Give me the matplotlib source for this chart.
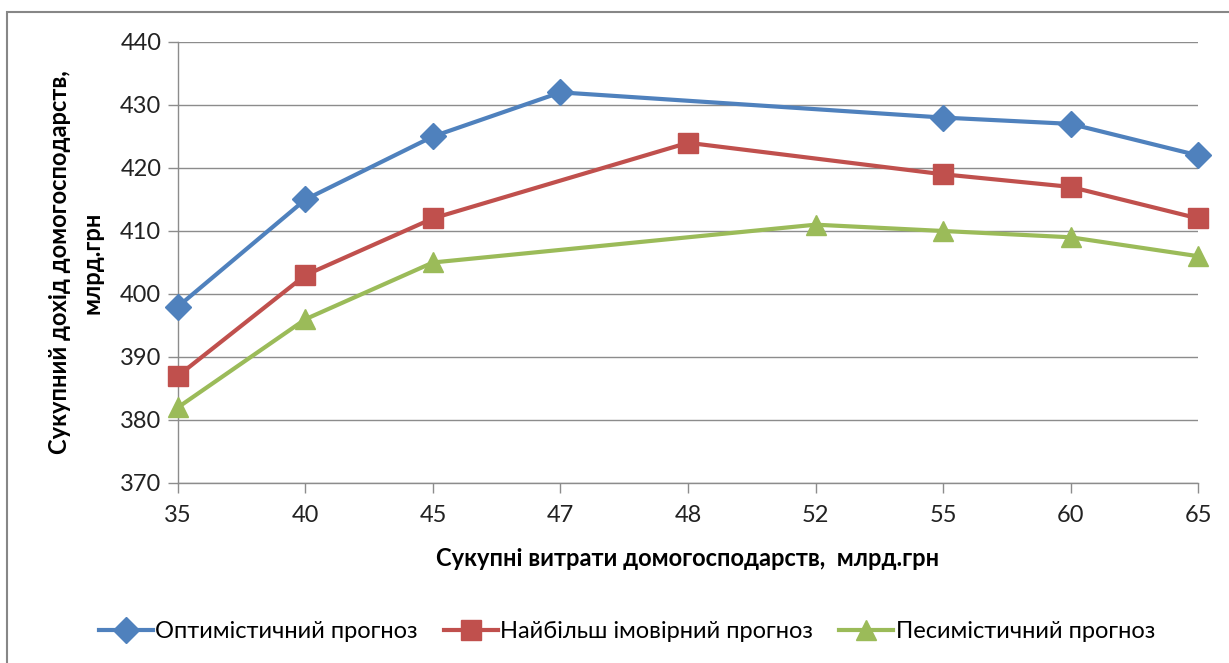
import matplotlib.pyplot as plt
import numpy as np
from matplotlib.patches import Rectangle

plt.rcParams["font.family"] = ["Lato", "DejaVu Sans"]

categories = ["35", "40", "45", "47", "48", "52", "55", "60", "65"]

# None = no point at that category; lines bridge the gaps
optimistic = [398, 415, 425, 432, None, None, 428, 427, 422]
most_likely = [387, 403, 412, None, 424, None, 419, 417, 412]
pessimistic = [382, 396, 405, None, None, 411, 410, 409, 406]

series = [
    ("Оптимістичний прогноз", optimistic, "#4F81BD", "D", 13),
    ("Найбільш імовірний прогноз", most_likely, "#C0504D", "s", 14),
    ("Песимістичний прогноз", pessimistic, "#9BBB59", "^", 15),
]

fig = plt.figure(figsize=(12.29, 6.63), dpi=100)
ax = fig.add_axes([0.1448, 0.2715, 0.830, 0.6652])

# outer chart frame
fig.patches.append(Rectangle((7 / 1229, -0.1), 1.2, 1 - 12 / 663 + 0.1,
                             transform=fig.transFigure, fill=False,
                             edgecolor="#878787", linewidth=1.5))

xpos = np.arange(len(categories))
for label, vals, color, marker, ms in series:
    xs = [x for x, v in zip(xpos, vals) if v is not None]
    ys = [v for v in vals if v is not None]
    ax.plot(xs, ys, color=color, linewidth=3, marker=marker,
            markersize=ms, markeredgecolor=color, label=label, zorder=3,
            clip_on=False)

ax.set_xlim(0, len(categories) - 1)
ax.set_ylim(370, 440)
ax.set_yticks(range(370, 441, 10))
ax.set_xticks(xpos)
ax.set_xticklabels(categories)
ax.grid(axis="y", color="#8c8c8c", linewidth=1)
ax.set_axisbelow(True)

for s in ("top", "right"):
    ax.spines[s].set_visible(False)
for s in ("left", "bottom"):
    ax.spines[s].set_color("#8c8c8c")
    ax.spines[s].set_linewidth(1)
ax.tick_params(axis="both", colors="#8c8c8c", labelcolor="#222222",
               labelsize=17, length=7, width=1)
ax.tick_params(axis="x", pad=9)
ax.tick_params(axis="y", pad=5)

ax.set_xlabel("Сукупні витрати домогосподарств,  млрд.грн",
              fontsize=17, fontweight="bold", labelpad=15)
ax.set_ylabel("Сукупний дохід домогосподарств,\nмлрд.грн",
              fontsize=17, fontweight="bold", labelpad=12, linespacing=1.5)

fig.legend(loc="center", bbox_to_anchor=(0.51, 0.047), ncol=3,
           frameon=False, fontsize=17, handlelength=2.3, columnspacing=1.1,
           handletextpad=0.1)

fig.savefig("out.png", dpi=100)
